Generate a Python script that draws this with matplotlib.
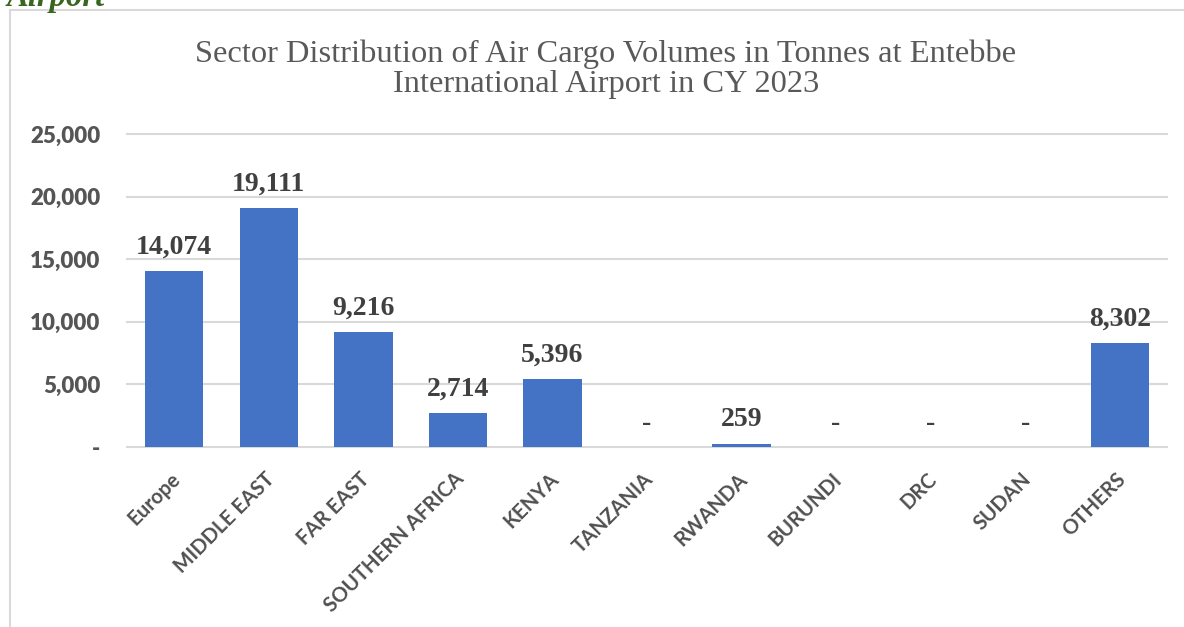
import matplotlib.pyplot as plt
import matplotlib.transforms as mtransforms
from matplotlib.patches import Rectangle
from matplotlib.ticker import FuncFormatter

# Air cargo volumes (tonnes) by sector, Entebbe International Airport, CY 2023
sectors = ['Europe', 'MIDDLE EAST', 'FAR EAST', 'SOUTHERN AFRICA', 'KENYA',
           'TANZANIA', 'RWANDA', 'BURUNDI', 'DRC', 'SUDAN', 'OTHERS']
tonnes = [14074, 19111, 9216, 2714, 5396, 0, 259, 0, 0, 0, 8302]
y_ticks = [0, 5000, 10000, 15000, 20000, 25000]

title = ("Sector Distribution of Air Cargo Volumes in Tonnes at Entebbe\n"
         "International Airport in CY 2023")

W, H = 1184, 627
fig = plt.figure(figsize=(W / 100, H / 100), dpi=100)

# frame of the chart (cut off on right and bottom)
fig.patches.append(Rectangle((10 / W, -0.1), 1.2, 1 - 10 / H + 0.1,
                             transform=fig.transFigure, fill=False,
                             edgecolor='#d9d9d9', linewidth=1.5))

# heading above the chart, cut off at the top edge like in the source
fig.text(7 / W, 1 - 6 / H, 'Airport', fontsize=23.5, fontstyle='italic',
         fontweight='bold', family='Liberation Serif', color='#38661f',
         ha='left', va='baseline')

ax = fig.add_axes([127 / W, 1 - 447 / H, (1167 - 127) / W, (447 - 134) / H])

x = list(range(len(sectors)))
ax.bar(x, tonnes, width=0.617, color='#4472c4', zorder=3)

for xi, v in zip(x, tonnes):
    lab = f'{v:,}' if v else '-'
    ax.annotate(lab, (xi, v), xytext=(0, 12.5), textcoords='offset points',
                ha='center', va='baseline', fontsize=20, fontweight='bold',
                family='Liberation Serif', color='#404040', zorder=4)

ax.set_xlim(-0.5, len(sectors) - 0.5)
ax.set_ylim(0, 25000)
ax.set_yticks(y_ticks)
ax.yaxis.set_major_formatter(FuncFormatter(lambda v, p: f'{v:,.0f}' if v else '-'))
ax.grid(axis='y', color='#d9d9d9', linewidth=1.5, zorder=0)
for gl in ax.get_ygridlines():
    gl.set_clip_on(False)
for s in ax.spines.values():
    s.set_visible(False)

ax.tick_params(axis='y', length=0, pad=19, labelsize=16, labelcolor='#555555')
for t in ax.get_yticklabels():
    t.set_family('Lato')
    t.set_fontweight('heavy')

ax.set_xticks(x)
ax.set_xticklabels(sectors)
ax.tick_params(axis='x', length=0, pad=21, labelsize=14.7, labelcolor='#505050')
shift = mtransforms.ScaledTranslation(3 / 100, 0, fig.dpi_scale_trans)
for t in ax.get_xticklabels():
    t.set_family('Lato')
    t.set_fontweight('bold')
    t.set_rotation(45)
    t.set_ha('right')
    t.set_va('center')
    t.set_rotation_mode('anchor')
    t.set_transform(t.get_transform() + shift)

fig.text(606 / W, 1 - 92 / H, title, ha='center', va='baseline',
         fontsize=23.4, family='Liberation Serif', color='#595959',
         linespacing=1.05)

fig.savefig('out.png', dpi=100)
